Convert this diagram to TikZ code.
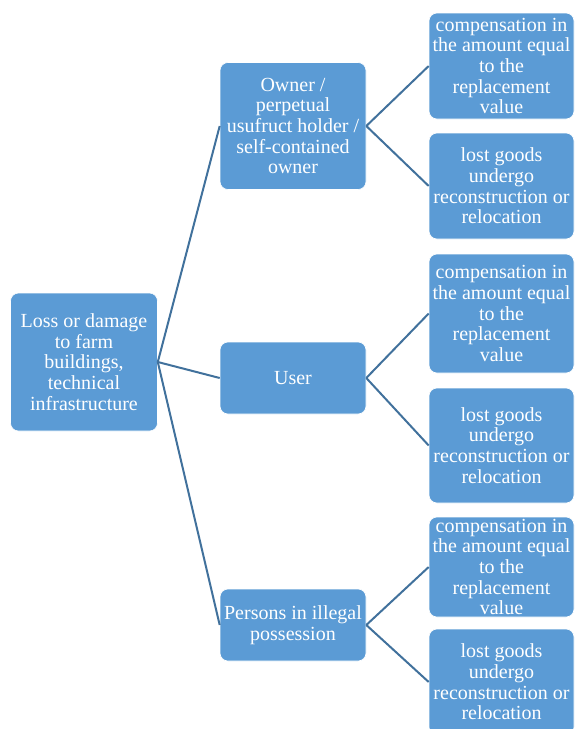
\documentclass[tikz,border=0pt]{standalone}
\usepackage{fontspec}
\setmainfont{Liberation Serif}
\definecolor{boxblue}{RGB}{91,155,213}
\definecolor{linkblue}{RGB}{65,113,156}
\begin{document}
\begin{tikzpicture}[x=1pt,y=-1pt,
  box/.style={draw=white, line width=0.6pt, fill=boxblue, rounded corners=8pt,
    text=white, align=center, inner sep=0pt,
    font=\fontsize{20}{20.7}\selectfont},
  link/.style={draw=linkblue, line width=2pt}]
\useasboundingbox (0,0) rectangle (574,729);
\node[box, minimum width=147pt, minimum height=138pt] (root) at (84,362)
  {Loss or damage\\to farm\\buildings,\\technical\\infrastructure};
\node[box, minimum width=146pt, minimum height=127pt] (owner) at (293,126)
  {Owner /\\perpetual\\usufruct holder /\\self-contained\\owner};
\node[box, minimum width=146pt, minimum height=72pt] (user) at (293,378) {User};
\node[box, minimum width=146pt, minimum height=72pt] (persons) at (293,625)
  {Persons in illegal\\possession};
\node[box, minimum width=145pt, minimum height=106pt] (comp1) at (501.5,66)
  {compensation in\\the amount equal\\to the\\replacement\\value};
\node[box, minimum width=145pt, minimum height=106pt] (lost1) at (501.5,186)
  {lost goods\\undergo\\reconstruction or\\relocation};
\node[box, minimum width=145pt, minimum height=119pt] (comp2) at (501.5,313.5)
  {compensation in\\the amount equal\\to the\\replacement\\value};
\node[box, minimum width=145pt, minimum height=115pt] (lost2) at (501.5,445.5)
  {lost goods\\undergo\\reconstruction or\\relocation};
\node[box, minimum width=145pt, minimum height=100pt] (comp3) at (501.5,567)
  {compensation in\\the amount equal\\to the\\replacement\\value};
\node[box, minimum width=145pt, minimum height=106pt] (lost3) at (501.5,682)
  {lost goods\\undergo\\reconstruction or\\relocation};
\draw[link] (root.east) -- (owner.west);
\draw[link] (root.east) -- (user.west);
\draw[link] (root.east) -- (persons.west);
\draw[link] (owner.east) -- (comp1.west);
\draw[link] (owner.east) -- (lost1.west);
\draw[link] (user.east) -- (comp2.west);
\draw[link] (user.east) -- (lost2.west);
\draw[link] (persons.east) -- (comp3.west);
\draw[link] (persons.east) -- (lost3.west);
\end{tikzpicture}
\end{document}
